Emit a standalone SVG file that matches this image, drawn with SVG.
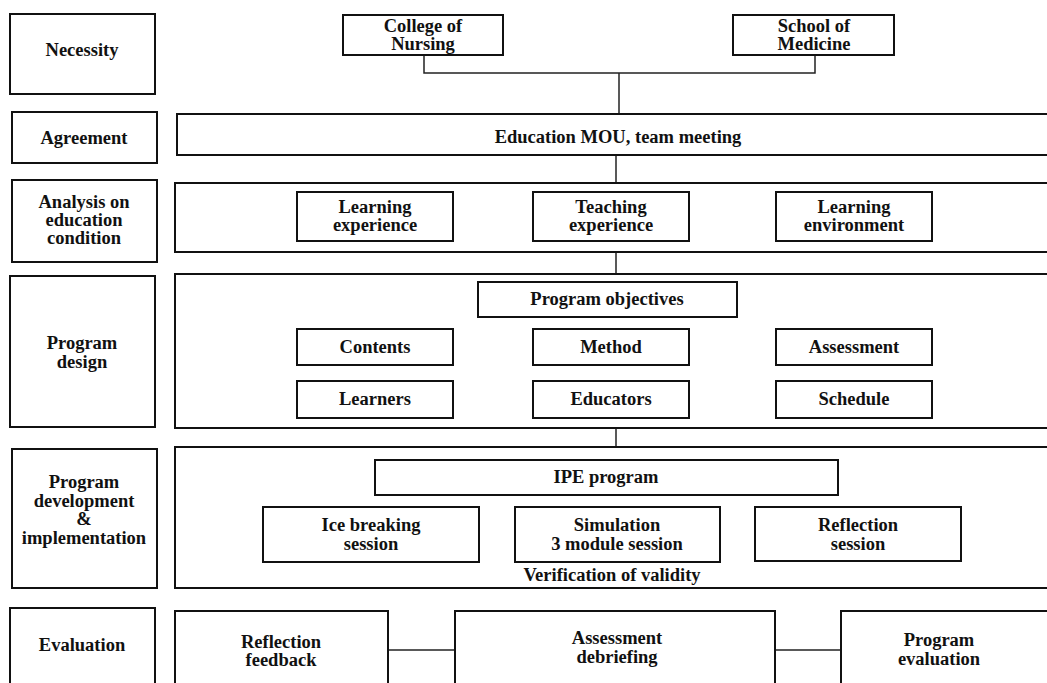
<svg xmlns="http://www.w3.org/2000/svg" width="1047" height="683" viewBox="0 0 1047 683">
<style>
.b{fill:#fff;stroke:#111;stroke-width:2}
.c{fill:none;stroke:#222;stroke-width:1.5}
text{font-family:"Liberation Serif","Times New Roman",serif;font-weight:bold;font-size:18.5px;fill:#111;text-anchor:middle;dominant-baseline:central}
</style>
<rect width="1047" height="683" fill="#fff"/>
<g id="connectors">
<polyline class="c" points="424,55 424,73 815,73 815,55"/>
<line class="c" x1="619" y1="73" x2="619" y2="114"/>
<line class="c" x1="616" y1="155" x2="616" y2="183"/>
<line class="c" x1="453" y1="216" x2="533" y2="216"/>
<line class="c" x1="689" y1="216" x2="776" y2="216"/>
<line class="c" x1="616" y1="252" x2="616" y2="274"/>
<line class="c" x1="453" y1="347" x2="533" y2="347"/>
<line class="c" x1="689" y1="347" x2="776" y2="347"/>
<line class="c" x1="453" y1="399" x2="533" y2="399"/>
<line class="c" x1="689" y1="399" x2="776" y2="399"/>
<line class="c" x1="375" y1="365" x2="375" y2="381"/>
<line class="c" x1="853" y1="365" x2="853" y2="381"/>
<line class="c" x1="616" y1="428" x2="616" y2="447"/>
<line class="c" x1="479" y1="533" x2="515" y2="533"/>
<line class="c" x1="720" y1="533" x2="755" y2="533"/>
<line class="c" x1="388" y1="650" x2="455" y2="650"/>
<line class="c" x1="775" y1="650" x2="841" y2="650"/>
</g>
<g id="necessity"><rect class="b" x="10" y="14" width="145" height="80"/><text x="82" y="50">Necessity</text></g>
<g id="agreement"><rect class="b" x="12" y="112" width="145" height="51"/><text x="84" y="138">Agreement</text></g>
<g id="analysis"><rect class="b" x="12" y="180" width="145" height="82"/><text x="84" y="202">Analysis on</text><text x="84" y="220">education</text><text x="84" y="238">condition</text></g>
<g id="program-design"><rect class="b" x="10" y="276" width="145" height="151"/><text x="82" y="343">Program</text><text x="82" y="362">design</text></g>
<g id="program-dev"><rect class="b" x="12" y="449" width="145" height="139"/><text x="84" y="482">Program</text><text x="84" y="501">development</text><text x="84" y="519">&amp;</text><text x="84" y="538">implementation</text></g>
<g id="evaluation"><rect class="b" x="10" y="608" width="145" height="90"/><text x="82" y="645">Evaluation</text></g>

<g id="college-nursing"><rect class="b" x="343" y="15" width="160" height="40"/><text x="423" y="26">College of</text><text x="423" y="44">Nursing</text></g>
<g id="school-medicine"><rect class="b" x="733" y="15" width="161" height="40"/><text x="814" y="26">School of</text><text x="814" y="44">Medicine</text></g>
<g id="mou"><rect class="b" x="177" y="114" width="880" height="41"/><text x="618" y="137">Education MOU, team meeting</text></g>

<g id="analysis-box"><rect class="b" x="175" y="183" width="882" height="69"/></g>
<g id="learning-exp"><rect class="b" x="297" y="192" width="156" height="49"/><text x="375" y="207">Learning</text><text x="375" y="225">experience</text></g>
<g id="teaching-exp"><rect class="b" x="533" y="192" width="156" height="49"/><text x="611" y="207">Teaching</text><text x="611" y="225">experience</text></g>
<g id="learning-env"><rect class="b" x="776" y="192" width="156" height="49"/><text x="854" y="207">Learning</text><text x="854" y="225">environment</text></g>

<g id="design-box"><rect class="b" x="175" y="274" width="882" height="154"/></g>
<g id="objectives"><rect class="b" x="478" y="282" width="259" height="35"/><text x="607" y="299">Program objectives</text></g>
<g id="contents"><rect class="b" x="297" y="329" width="156" height="36"/><text x="375" y="347">Contents</text></g>
<g id="method"><rect class="b" x="533" y="329" width="156" height="36"/><text x="611" y="347">Method</text></g>
<g id="assessment"><rect class="b" x="776" y="329" width="156" height="36"/><text x="854" y="347">Assessment</text></g>
<g id="learners"><rect class="b" x="297" y="381" width="156" height="37"/><text x="375" y="399">Learners</text></g>
<g id="educators"><rect class="b" x="533" y="381" width="156" height="37"/><text x="611" y="399">Educators</text></g>
<g id="schedule"><rect class="b" x="776" y="381" width="156" height="37"/><text x="854" y="399">Schedule</text></g>

<g id="dev-box"><rect class="b" x="175" y="447" width="882" height="141"/><text x="612" y="575">Verification of validity</text></g>
<g id="ipe"><rect class="b" x="375" y="460" width="463" height="35"/><text x="606" y="477">IPE program</text></g>
<g id="ice"><rect class="b" x="263" y="507" width="216" height="55"/><text x="371" y="525">Ice breaking</text><text x="371" y="544">session</text></g>
<g id="simulation"><rect class="b" x="515" y="507" width="205" height="55"/><text x="617" y="525">Simulation</text><text x="617" y="544">3 module session</text></g>
<g id="reflection-session"><rect class="b" x="755" y="507" width="206" height="54"/><text x="858" y="525">Reflection</text><text x="858" y="544">session</text></g>

<g id="reflection-feedback"><rect class="b" x="175" y="611" width="213" height="90"/><text x="281" y="642">Reflection</text><text x="281" y="660">feedback</text></g>
<g id="assessment-debriefing"><rect class="b" x="455" y="611" width="320" height="90"/><text x="617" y="638">Assessment</text><text x="617" y="657">debriefing</text></g>
<g id="program-evaluation"><rect class="b" x="841" y="611" width="220" height="90"/><text x="939" y="640">Program</text><text x="939" y="659">evaluation</text></g>
</svg>
